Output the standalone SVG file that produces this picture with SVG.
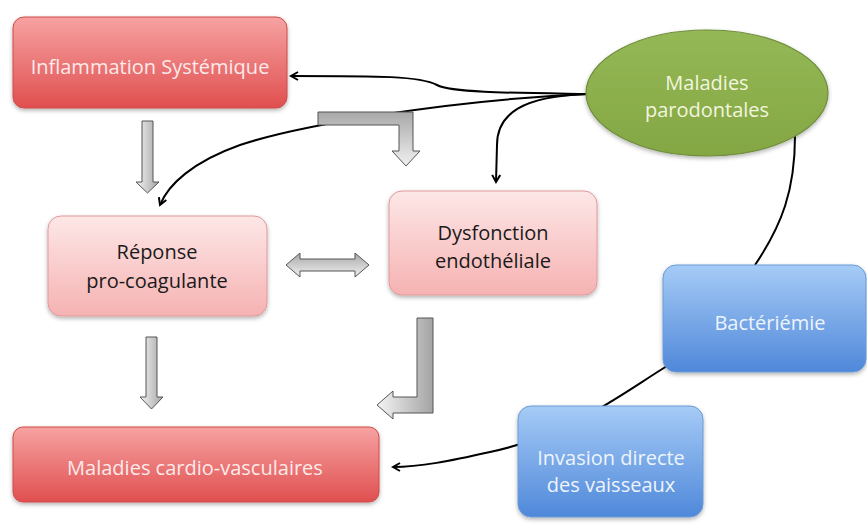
<svg xmlns="http://www.w3.org/2000/svg" width="867" height="525" viewBox="0 0 867 525">
<defs>
<linearGradient id="gRed" x1="0" y1="0" x2="0" y2="1"><stop offset="0" stop-color="#f7a2a2"/><stop offset="1" stop-color="#e04f4f"/></linearGradient>
<linearGradient id="gPink" x1="0" y1="0" x2="0" y2="1"><stop offset="0" stop-color="#fde7e7"/><stop offset="1" stop-color="#f6b2b2"/></linearGradient>
<linearGradient id="gBlue" x1="0" y1="0" x2="0" y2="1"><stop offset="0" stop-color="#a6cbf6"/><stop offset="1" stop-color="#4f88da"/></linearGradient>
<linearGradient id="gGreen" x1="0" y1="0" x2="0" y2="1"><stop offset="0" stop-color="#95b857"/><stop offset="1" stop-color="#84a744"/></linearGradient>
<linearGradient id="gGrayV" x1="0" y1="0" x2="1" y2="0"><stop offset="0" stop-color="#f4f4f4"/><stop offset="1" stop-color="#a4a4a4"/></linearGradient>
<linearGradient id="gGrayH" x1="0" y1="0" x2="0" y2="1"><stop offset="0" stop-color="#a8a8a8"/><stop offset="1" stop-color="#f0f0f0"/></linearGradient>
<filter id="sh" x="-10%" y="-10%" width="120%" height="130%"><feDropShadow dx="0" dy="2" stdDeviation="2" flood-color="#000" flood-opacity="0.3"/></filter>
<marker id="ah" viewBox="0 0 10 10" refX="8" refY="5" markerWidth="10" markerHeight="10" markerUnits="userSpaceOnUse" orient="auto"><path d="M1,1 L8,5 L1,9" fill="none" stroke="#000" stroke-width="2"/></marker>
<style>
.t{font-family:"Open Sans","Liberation Sans",sans-serif;font-size:20px;text-anchor:middle}
.lt{fill:#fdeaea}
.dk{fill:#1a1a1a}
.bt{fill:#eef4fc}
.gt{fill:#f2f5df}
.red{fill:url(#gRed);stroke:#cf4a48;stroke-width:1;filter:url(#sh)}
.pink{fill:url(#gPink);stroke:#e09a9a;stroke-width:1;filter:url(#sh)}
.blue{fill:url(#gBlue);stroke:#6b9bd6;stroke-width:1;filter:url(#sh)}
.blk{fill:url(#gGrayV);stroke:#555;stroke-width:1}
.blkh{fill:url(#gGrayH);stroke:#555;stroke-width:1}
.c{fill:none;stroke:#000;stroke-width:2}
</style>
</defs>
<rect width="867" height="525" fill="#fff"/>
<g id="connectors">
<path class="c" d="M588,94 C520,93 452,93 437,85 C420,76 380,76 291,76" marker-end="url(#ah)"/>
<path class="c" d="M588,94 C450,100 300,125 240,145 C192,162 168,185 160,205" marker-end="url(#ah)"/>
<path class="c" d="M588,94 C522,96 497,114 497,145 L496,182" marker-end="url(#ah)"/>
<path class="c" d="M795,136 C795,190 782,225 755,265"/>
<path class="c" d="M667,366 C620,395 570,435 490,452 C450,461 420,467 393,467" marker-end="url(#ah)"/>
<polygon class="blk" points="142,121 153,121 153,182 159,182 147.5,193 136,182 142,182"/>
<polygon class="blkh" points="318,112 413,112 413,151 420,151 406,166 392,151 399,151 399,125 318,125"/>
<polygon class="blkh" points="286,265 300,253 300,259 355,259 355,253 369,265 355,277 355,271 300,271 300,277"/>
<polygon class="blk" points="146,337 157,337 157,397 163,397 151.5,409 140,397 146,397"/>
<polygon class="blk" points="417,318 433,318 433,413 393,413 393,419 377,405 393,391 393,397 417,397"/>
</g>
<g id="inflammation">
<rect class="red" x="13" y="17" width="274" height="91" rx="11"/>
<text class="t lt" x="150" y="74">Inflammation Systémique</text>
</g>
<g id="parodontales">
<ellipse cx="707" cy="93" rx="121" ry="63" fill="url(#gGreen)" stroke="#6f8d3b" stroke-width="1.2" filter="url(#sh)"/>
<text class="t gt" x="707" y="90">Maladies</text>
<text class="t gt" x="707" y="117">parodontales</text>
</g>
<g id="reponse">
<rect class="pink" x="48" y="216" width="219" height="100" rx="13"/>
<text class="t dk" x="157" y="259">Réponse</text>
<text class="t dk" x="157" y="288">pro-coagulante</text>
</g>
<g id="dysfonction">
<rect class="pink" x="389" y="191" width="208" height="104" rx="13"/>
<text class="t dk" x="493" y="240">Dysfonction</text>
<text class="t dk" x="493" y="268">endothéliale</text>
</g>
<g id="bacteriemie">
<rect class="blue" x="663" y="265" width="203" height="107" rx="13"/>
<text class="t bt" x="770" y="330">Bactériémie</text>
</g>
<g id="invasion">
<rect class="blue" x="518" y="406" width="185" height="111" rx="13"/>
<text class="t bt" x="611" y="465">Invasion directe</text>
<text class="t bt" x="611" y="492">des vaisseaux</text>
</g>
<g id="cardio">
<rect class="red" x="13" y="427" width="366" height="75" rx="10"/>
<text class="t lt" x="195" y="475">Maladies cardio-vasculaires</text>
</g>
</svg>
